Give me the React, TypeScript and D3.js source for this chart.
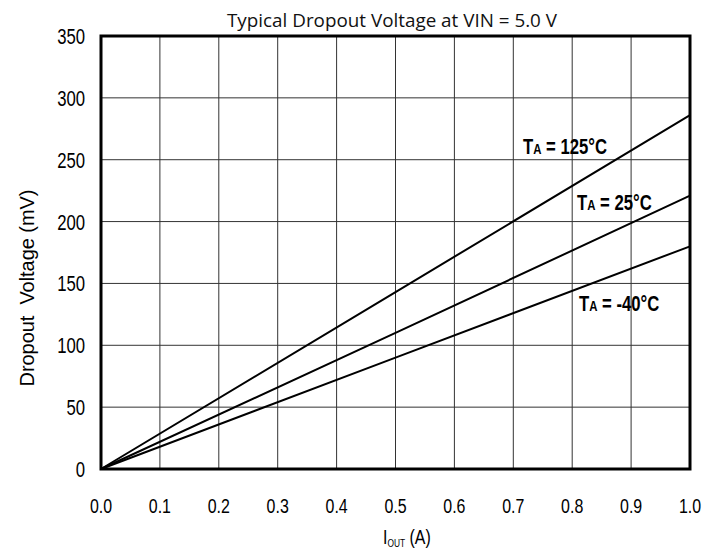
import React, { useEffect, useRef } from "react";
import * as d3 from "d3";

const xTicks = [0, 0.1, 0.2, 0.3, 0.4, 0.5, 0.6, 0.7, 0.8, 0.9, 1.0];
const yTicks = [0, 50, 100, 150, 200, 250, 300, 350];

const current = [0, 0.5, 1.0];
const hot = [0, 143, 286];
const room = [0, 110, 221];
const cold = [0, 90, 180];

const seriesNames = ["125°C", "25°C", "-40°C"];

const W = 722;
const H = 554;
const margin = { top: 36, right: 32, bottom: 85, left: 101 };
const NARROW = 0.76;
const ARIAL = "'Liberation Sans', Arial, sans-serif";

const App = () => {
    const ref = useRef<SVGSVGElement | null>(null);

    useEffect(() => {
        const svg = d3.select(ref.current);
        svg.selectAll("*").remove();

        const x = d3.scaleLinear().domain([0, 1]).range([margin.left, W - margin.right]);
        const y = d3.scaleLinear().domain([0, 350]).range([H - margin.bottom, margin.top]);

        // grid
        svg.append("g")
            .selectAll("line.v")
            .data(xTicks.slice(1, -1))
            .enter()
            .append("line")
            .attr("x1", d => x(d)).attr("x2", d => x(d))
            .attr("y1", y(0)).attr("y2", y(350))
            .attr("stroke", "#333").attr("stroke-width", 1);

        svg.append("g")
            .selectAll("line.h")
            .data(yTicks.slice(1, -1))
            .enter()
            .append("line")
            .attr("x1", x(0)).attr("x2", x(1))
            .attr("y1", d => y(d)).attr("y2", d => y(d))
            .attr("stroke", "#333").attr("stroke-width", 1);

        // curves
        const line = d3.line<[number, number]>()
            .x(d => x(d[0]))
            .y(d => y(d[1]));

        [hot, room, cold].forEach(vals => {
            svg.append("path")
                .datum(current.map((c, i) => [c, vals[i]] as [number, number]))
                .attr("d", line)
                .attr("fill", "none")
                .attr("stroke", "#000")
                .attr("stroke-width", 2);
        });

        // frame
        svg.append("rect")
            .attr("x", x(0)).attr("y", y(350))
            .attr("width", x(1) - x(0)).attr("height", y(0) - y(350))
            .attr("fill", "none").attr("stroke", "#000").attr("stroke-width", 3);

        // tick labels
        svg.append("g")
            .selectAll("g")
            .data(xTicks)
            .enter()
            .append("g")
            .attr("transform", d => `translate(${x(d)},${y(0) + 44}) scale(${NARROW},1)`)
            .append("text")
            .attr("text-anchor", "middle")
            .style("font-family", ARIAL)
            .style("font-size", "21px")
            .text(d => d.toFixed(1));

        svg.append("g")
            .selectAll("g")
            .data(yTicks)
            .enter()
            .append("g")
            .attr("transform", d => `translate(${x(0) - 16},${y(d) + 8}) scale(${NARROW},1)`)
            .append("text")
            .attr("text-anchor", "end")
            .style("font-family", ARIAL)
            .style("font-size", "22px")
            .text(d => d);

        // title
        svg.append("text")
            .attr("x", 392).attr("y", 27)
            .attr("text-anchor", "middle")
            .attr("textLength", 330)
            .attr("lengthAdjust", "spacingAndGlyphs")
            .style("font-family", "'Open Sans', 'Noto Sans', sans-serif")
            .style("font-size", "19px")
            .style("fill", "#111")
            .text("Typical Dropout Voltage at VIN = 5.0 V");

        // y title
        svg.append("text")
            .attr("transform", "translate(34,288) rotate(-90)")
            .attr("text-anchor", "middle")
            .attr("textLength", 197)
            .attr("lengthAdjust", "spacingAndGlyphs")
            .style("font-family", ARIAL)
            .style("font-size", "20px")
            .style("white-space", "pre")
            .text("Dropout  Voltage (mV)");

        // x title
        const xt = svg.append("g")
            .attr("transform", `translate(383,544) scale(${NARROW},1)`)
            .append("text")
            .style("font-family", ARIAL)
            .style("font-size", "21px");
        xt.append("tspan").text("I");
        xt.append("tspan").attr("dy", 3).style("font-size", "11px").text("OUT");
        xt.append("tspan").attr("dy", -3).text(" (A)");

        // series labels
        const labelPos = [
            { x: 523, y: 154 },
            { x: 577, y: 210 },
            { x: 579, y: 311 },
        ];
        seriesNames.forEach((name, i) => {
            const t = svg.append("g")
                .attr("transform", `translate(${labelPos[i].x},${labelPos[i].y}) scale(${NARROW},1)`)
                .append("text")
                .style("font-family", ARIAL)
                .style("font-weight", "bold")
                .style("font-size", "22px")
                .style("white-space", "pre");
            t.append("tspan").text("T");
            t.append("tspan").style("font-size", "15px").text("A");
            t.append("tspan").text(" = " + name);
        });
    }, []);

    return (
        <svg
            ref={ref}
            width={W}
            height={H}
            style={{ position: "absolute", left: 0, top: 0, background: "#fff" }}
        />
    );
};

export default App;
